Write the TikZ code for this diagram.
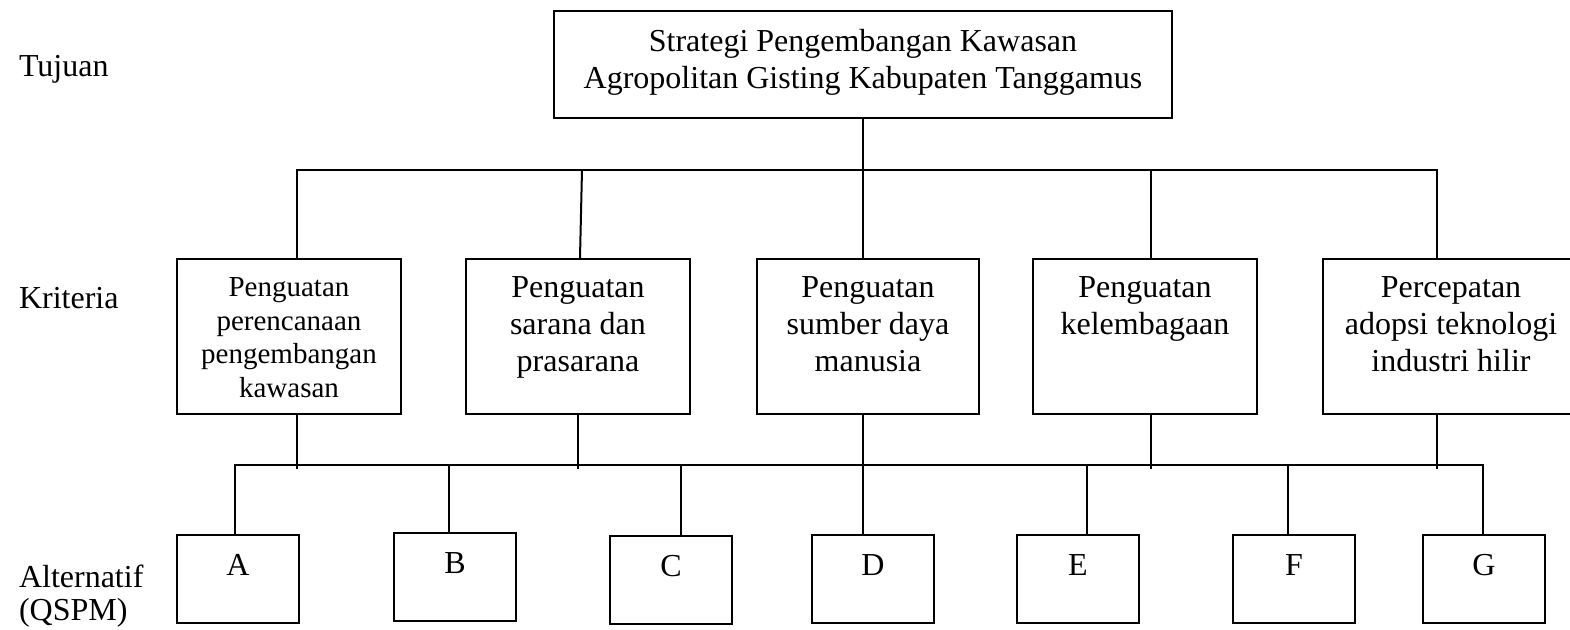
\documentclass[tikz,border=0pt]{standalone}
\usepackage{fontspec}
\setmainfont{Liberation Serif}
% fixed-height strut that sets the first baseline of a multi-line label
\newcommand{\capstrut}{\rule{0pt}{12pt}}
\begin{document}
\begin{tikzpicture}[x=0.5pt,y=-0.5pt,line width=1pt,
  box/.style={draw, rectangle, line width=1pt, inner sep=0pt, anchor=north west},
  critbox/.style={box, minimum width=112pt, minimum height=77.5pt},
  altbox/.style={box, minimum width=61pt, minimum height=44pt},
  txt/.style={inner sep=0pt, align=center, font=\fontsize{16}{18.5}\selectfont},
  smalltxt/.style={txt, font=\fontsize{14.5}{16.75}\selectfont},
  lbl/.style={inner sep=0pt, align=left, font=\fontsize{16}{16.5}\selectfont},
  letter/.style={inner sep=0pt, anchor=base, font=\fontsize{16}{18}\selectfont}]
\useasboundingbox (0,0) rectangle (1570,630);
\clip (0,0) rectangle (1570,630);

% level labels
\node[lbl, anchor=base west] (ltuj) at (18,77) {Tujuan};
\node[lbl, anchor=base west] (lkri) at (18,309) {Kriteria};
\node[lbl, anchor=north west] (lalt) at (18,562) {\capstrut Alternatif\\(QSPM)};

% goal
\node[box, minimum width=309pt, minimum height=53.5pt] (goal) at (553,10) {};
\node[txt, anchor=north] (goaltext) at ([yshift=-8.5pt]goal.north)
  {\capstrut Strategi Pengembangan Kawasan\\Agropolitan Gisting Kabupaten Tanggamus};

% criteria
\node[critbox] (c1) at (176,258) {};
\node[critbox] (c2) at (465,258) {};
\node[critbox, minimum width=111pt] (c3) at (756,258) {};
\node[critbox] (c4) at (1032,258) {};
\node[critbox, minimum width=128pt] (c5) at (1322,258) {};

\node[smalltxt, anchor=north] (c1t) at ([yshift=-7pt]c1.north)
  {\capstrut Penguatan\\perencanaan\\pengembangan\\kawasan};
\node[txt, anchor=north] (c2t) at ([yshift=-7.5pt]c2.north)
  {\capstrut Penguatan\\sarana dan\\prasarana};
\node[txt, anchor=north] (c3t) at ([yshift=-7.5pt]c3.north)
  {\capstrut Penguatan\\sumber daya\\manusia};
\node[txt, anchor=north] (c4t) at ([yshift=-7.5pt]c4.north)
  {\capstrut Penguatan\\kelembagaan};
\node[txt, anchor=north] (c5t) at ([yshift=-7.5pt]c5.north)
  {\capstrut Percepatan\\adopsi teknologi\\industri hilir};

% alternatives
\node[altbox] (A) at (176,534) {};
\node[altbox] (B) at (393,532) {};
\node[altbox] (C) at (609,535) {};
\node[altbox] (D) at (811,534) {};
\node[altbox] (E) at (1016,534) {};
\node[altbox] (F) at (1232,534) {};
\node[altbox] (G) at (1422,534) {};
\foreach \n in {A,B,C,D,E,F,G}
  \node[letter] (\n t) at ([yshift=-21pt]\n.north) {\n};

% upper bus: goal to criteria
\coordinate (k1) at (297,170);
\coordinate (k2) at (582,170);
\coordinate (k3) at (863,170);
\coordinate (k4) at (1151,170);
\coordinate (k5) at (1437,170);
\draw (goal.south) -- (goal.south |- k3);
\draw (k1 |- c1.north) -- (k1) -- (k5) -- (k5 |- c5.north);
\draw (k2) -- ([xshift=1pt]c2.north);
\draw (k3) -- (k3 |- c3.north);
\draw (k4) -- (k4 |- c4.north);

% lower bus: criteria to alternatives
\coordinate (bl) at (235,465);
\coordinate (br) at (1483,465);
\coordinate (t1) at (297,469);
\coordinate (t2) at (578,469);
\coordinate (t4) at (1151,469);
\coordinate (t5) at (1437,469);
\coordinate (dB) at (449,465);
\coordinate (dC) at (681,465);
\coordinate (dE) at (1087,465);
\coordinate (dF) at (1288,465);
\draw (bl |- A.north) -- (bl) -- (br) -- (br |- G.north);
\draw (t1 |- c1.south) -- (t1);
\draw (t2 |- c2.south) -- (t2);
\draw (t4 |- c4.south) -- (t4);
\draw (t5 |- c5.south) -- (t5);
\draw (k3 |- c3.south) -- (k3 |- D.north);
\draw (dB) -- (dB |- B.north);
\draw (dC) -- (dC |- C.north);
\draw (dE) -- (dE |- E.north);
\draw (dF) -- (dF |- F.north);
\end{tikzpicture}
\end{document}
